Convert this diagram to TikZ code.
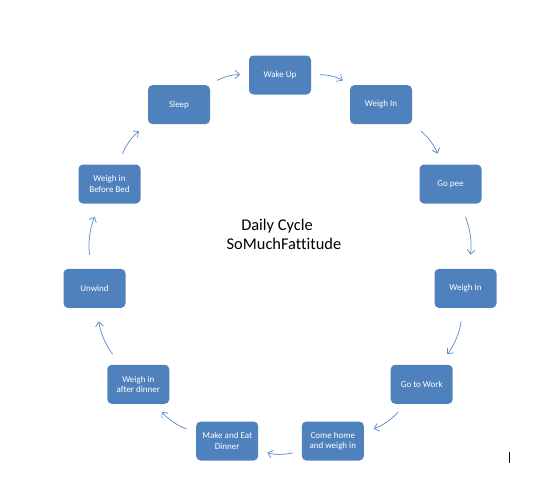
\documentclass[tikz,border=0pt]{standalone}
\usepackage{fontspec}
\setmainfont{Carlito}[Ligatures=NoCommon]
\usetikzlibrary{arrows.meta}
\definecolor{boxblue}{RGB}{79,129,189}
\definecolor{arrowblue}{RGB}{95,143,200}
\tikzset{
  box/.style={fill=boxblue, rounded corners=4.5pt, minimum width=62pt, minimum height=39pt,
    inner sep=0pt, text=white, align=center, font=\fontsize{9}{10.5}\selectfont},
  cyc/.style={draw=arrowblue, line width=0.75pt, -{Straight Barb[length=4.5pt,width=8pt]},
    bend left=16.36, shorten <=#1, shorten >=#1},
  title/.style={anchor=base, font=\fontsize{16.4}{19}\selectfont, text=black, inner sep=0pt}
}
\begin{document}
\begin{tikzpicture}[x=1pt,y=-1pt]
\useasboundingbox (0,0) rectangle (551,496);
\node[box] (n0) at (280,75) {Wake Up};
\node[box] (n1) at (381,104.6) {Weigh In};
\node[box] (n2) at (450.5,184) {Go pee};
\node[box] (n3) at (465.5,288.4) {Weigh In};
\node[box] (n4) at (421.7,384.3) {Go to Work};
\node[box] (n5) at (332.8,441) {Come home\\and weigh in};
\node[box] (n6) at (227.2,441) {Make and Eat\\Dinner};
\node[box] (n7) at (138.3,384.3) {Weigh in\\after dinner};
\node[box] (n8) at (94.5,288.4) {Unwind};
\node[box] (n9) at (109.5,184) {Weigh in\\Before Bed};
\node[box] (n10) at (179,104.6) {Sleep};
\draw[cyc=8.7] (n0) to (n1);
\draw[cyc=11.3] (n1) to (n2);
\draw[cyc=14.2] (n2) to (n3);
\draw[cyc=13.4] (n3) to (n4);
\draw[cyc=10.1] (n4) to (n5);
\draw[cyc=9.3] (n5) to (n6);
\draw[cyc=10.1] (n6) to (n7);
\draw[cyc=13.4] (n7) to (n8);
\draw[cyc=14.2] (n8) to (n9);
\draw[cyc=11.3] (n9) to (n10);
\draw[cyc=8.7] (n10) to (n0);
\node[title] (t1) at (277,230.7) {Daily Cycle};
\node[title] (t2) at (284,249.3) {SoMuchFattitude};
\draw[line width=1.3pt] (509.5,451.7) -- (509.5,463.3);
\end{tikzpicture}
\end{document}
